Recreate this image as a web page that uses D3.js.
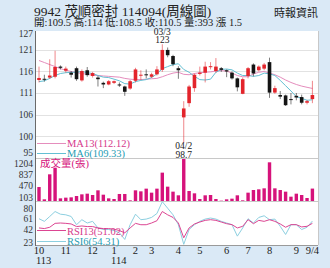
<!DOCTYPE html>
<html><head><meta charset="utf-8">
<script src="https://cdn.jsdelivr.net/npm/d3@7"></script>
<style>
body{margin:0;background:#dae9f6;}
svg{display:block}
text{font-family:"Liberation Serif","Noto Sans CJK TC",serif;}
</style>
</head><body>
<svg id="c" width="330" height="268"></svg>
<script>
// ---------- data (weekly, 52 candles) ----------
const opens  = [114.2,114.5,114.8,115.0,117.5,116.5,116.0,117.1,114.1,116.6,115.2,114.8,113.5,113.1,113.5,113.1,112.6,112.1,114.0,115.3,115.6,115.0,115.6,116.7,121.6,120.1,117.1,105.0,108.5,112.2,115.7,116.0,117.4,116.4,117.1,116.6,116.0,114.6,110.8,115.2,118.0,116.6,117.0,118.6,111.1,110.5,110.4,109.5,110.3,110.0,108.6,109.5];
const highs  = [117.5,115.5,119.3,121.4,117.8,117.5,116.4,117.5,116.8,117.4,116.2,115.2,113.8,114.2,114.1,113.6,112.8,114.2,117.2,116.6,116.8,116.0,117.6,123.0,122.2,120.4,117.6,109.0,113.0,115.8,117.5,118.7,118.6,119.6,117.4,116.8,116.3,114.8,114.8,117.4,118.3,117.8,118.4,119.7,112.8,111.5,110.6,111.0,111.0,110.6,109.3,114.0];
const lows   = [113.6,113.8,114.5,114.6,116.8,116.0,114.8,114.0,113.8,115.0,114.8,112.6,112.2,112.9,113.2,112.5,110.3,111.8,113.6,114.2,114.6,114.7,115.3,116.2,119.8,117.6,114.5,98.7,107.6,111.3,115.3,113.6,116.8,116.0,116.2,114.9,114.3,111.4,110.7,114.6,115.1,116.3,116.6,109.8,110.8,109.5,107.8,108.2,109.2,108.2,108.2,108.5];
const closes = [114.7,114.3,115.3,117.4,117.2,117.0,115.5,114.4,116.4,115.4,115.9,114.4,113.1,113.9,113.9,113.0,111.3,113.9,116.8,115.5,115.4,115.6,116.8,121.6,120.3,118.1,116.6,107.2,112.6,115.5,116.0,117.5,117.6,117.5,116.7,116.3,114.6,112.4,114.4,117.1,115.8,117.5,118.0,111.1,112.2,110.1,108.0,109.4,109.9,108.6,109.0,110.5];
const volumes = [443,53,845,1056,84,106,116,158,211,232,190,338,200,84,63,222,222,21,338,306,391,264,391,898,454,296,180,1330,317,243,63,180,190,63,11,53,74,180,21,264,348,370,401,1225,401,348,296,137,232,190,95,393];
const ma6  = [113.8,114.0,114.6,115.3,115.8,116.0,116.1,116.1,116.3,116.0,115.8,115.3,114.9,114.8,114.4,114.0,113.3,113.2,113.8,114.1,114.3,114.8,115.7,117.0,117.5,118.0,118.2,116.8,116.1,115.1,114.3,114.2,114.4,116.1,116.8,116.9,116.7,115.9,115.3,115.3,115.1,115.3,115.9,115.7,115.3,114.1,112.8,111.5,110.1,109.7,109.2,109.33];
const ma13 = [119.0,118.5,118.0,117.5,117.0,116.6,116.3,116.0,115.8,115.6,115.4,115.3,115.2,115.1,115.0,114.9,114.6,114.4,114.3,114.3,114.4,114.5,114.6,115.0,115.5,115.9,116.1,115.6,115.5,115.8,116.0,116.1,116.2,116.4,116.5,116.4,115.9,115.3,115.0,115.0,115.7,116.1,116.3,115.9,115.5,114.9,114.2,113.6,113.1,112.7,112.4,112.12];
const rsi6  = [57.7,53.9,61.0,68.2,64.3,63.4,61.0,49.0,56.3,51.5,53.9,44.3,42.0,42.0,40.5,37.2,27.6,49.0,64.3,56.3,57.2,59.6,65.3,82.5,73.0,63.4,49.0,20.5,42.0,49.0,53.9,57.2,58.7,57.2,53.9,51.5,49.0,32.4,44.3,57.7,51.5,59.6,62.0,56.3,57.2,46.7,34.8,49.0,49.0,42.0,45.3,54.31];
const rsi13 = [44.3,43.4,45.3,51.0,51.5,51.0,50.1,46.3,47.2,46.3,46.3,44.3,43.4,43.4,42.5,40.5,37.2,44.3,51.0,49.0,49.0,51.5,54.8,68.2,63.4,59.6,51.5,30.0,44.3,50.1,52.9,55.3,56.3,55.3,52.9,50.5,49.1,44.3,46.7,56.3,50.5,55.3,53.9,56.3,53.9,50.1,45.3,49.1,49.1,45.8,46.7,51.02];

const priceTicks = [95,100.3,105.7,111,116.3,121.7,127];
const priceTickLabels = ["95","100","106","111","116","121","127"];
const volTicks = [103,470,837,1204];
const rsiTicks = [23,42,61,80];
const monthIdx  = [0,5,10,14,18,21,26,30,35,39,43,48,51];
const monthText = ["10","11","12","1","2","3","4","5","6","7","8","9","9/4"];
const yearIdx  = [0,14];
const yearText = ["113","114"];
const highIdx = 23, highDate = "03/3";
const lowIdx = 27, lowDate = "04/2";

// ---------- layout ----------
const L = 35, R = 318;
const svg = d3.select("#c");
const x = d3.scaleLinear().domain([0, closes.length - 1]).range([39, 312.4]);
const yP = d3.scaleLinear().domain([95, 127]).range([158, 28]);
const yV = d3.scaleLinear().domain([0, 1330]).range([201, 159]);
const yR = d3.scaleLinear().domain([19.5, 83.5]).range([245, 201]);

const RED = "#e3242b", BLK = "#141414", MAG = "#d6137b";

// title
svg.append("text").attr("x", 34).attr("y", 15.5).attr("font-size", 13.5).attr("fill", "#222")
  .text("9942  茂順密封 114094(周線圖)");
svg.append("text").attr("x", 318).attr("y", 16.5).attr("font-size", 11).attr("fill", "#222")
  .attr("text-anchor", "end").text("時報資訊");
svg.append("text").attr("x", 34).attr("y", 26).attr("font-size", 10.5).attr("fill", "#222")
  .text("開:109.5 高:114 低:108.5 收:110.5 量:393 漲 1.5");

// plot background
svg.append("rect").attr("x", L).attr("y", 31).attr("width", R - L).attr("height", 214).attr("fill", "#fff");

// price grid
svg.append("g").selectAll("line").data(priceTicks.slice(1, -1)).join("line")
  .attr("x1", L).attr("x2", R).attr("y1", d => Math.round(yP(d)) + 0.5).attr("y2", d => Math.round(yP(d)) + 0.5)
  .attr("stroke", "#e2e2e2").attr("stroke-width", 1);

// separators / borders
const sep = [158.5, 201.5];
svg.append("g").selectAll("line").data(sep).join("line")
  .attr("x1", L).attr("x2", R).attr("y1", d => d).attr("y2", d => d).attr("stroke", "#c8c8c8");
svg.append("line").attr("x1", R + 0.5).attr("x2", R + 0.5).attr("y1", 31).attr("y2", 245).attr("stroke", "#c8c8c8");
svg.append("line").attr("x1", L).attr("x2", R).attr("y1", 245.5).attr("y2", 245.5).attr("stroke", "#9a9a9a");
svg.append("line").attr("x1", L + 0.5).attr("x2", L + 0.5).attr("y1", 31).attr("y2", 246).attr("stroke", "#6a6a6a");

// y tick labels (stacked top-to-bottom with a minimum gap so they never collide)
const tickLabels = [];
priceTicks.forEach((v, i) => tickLabels.push({t: priceTickLabels[i], y: Math.min(Math.max(yP(v), 34), 153)}));
volTicks.forEach(v => tickLabels.push({t: String(v), y: yV(v)}));
rsiTicks.forEach(v => tickLabels.push({t: String(v), y: yR(v)}));
tickLabels.sort((a, b) => a.y - b.y);
const GAP = 10.7;
for (let k = 1; k < tickLabels.length; k++) tickLabels[k].y = Math.max(tickLabels[k].y, tickLabels[k - 1].y + GAP);
svg.append("g").selectAll("text").data(tickLabels).join("text")
  .attr("x", 33).attr("text-anchor", "end").attr("font-size", 9.5).attr("fill", "#333")
  .attr("y", d => d.y + 3.3).text(d => d.t);

// MA lines
const idx = d3.range(closes.length);
const lineP = arr => d3.line().x(i => x(i)).y(i => yP(arr[i]))(idx);
svg.append("path").attr("d", lineP(ma13)).attr("fill", "none").attr("stroke", "#e58dbd").attr("stroke-width", 1);
svg.append("path").attr("d", lineP(ma6)).attr("fill", "none").attr("stroke", "#63bfd3").attr("stroke-width", 1);

// candles
const bw = 3.6;
const cg = svg.append("g");
cg.selectAll("line").data(idx).join("line")
  .attr("x1", i => x(i)).attr("x2", i => x(i))
  .attr("y1", i => yP(highs[i])).attr("y2", i => yP(lows[i]))
  .attr("stroke", i => closes[i] >= opens[i] ? RED : BLK).attr("stroke-width", 1).attr("stroke-opacity", 0.55);
cg.selectAll("rect").data(idx).join("rect")
  .attr("x", i => x(i) - bw / 2).attr("width", bw)
  .attr("y", i => yP(Math.max(opens[i], closes[i])))
  .attr("height", i => Math.max(1, Math.abs(yP(opens[i]) - yP(closes[i]))))
  .attr("fill", i => closes[i] >= opens[i] ? RED : BLK);

// high / low annotations
const ann = svg.append("g").attr("font-size", 9.5).attr("fill", "#222").attr("text-anchor", "middle");
ann.append("text").attr("x", x(highIdx)).attr("y", 34.5).text(highDate);
ann.append("text").attr("x", x(highIdx)).attr("y", yP(highs[highIdx]) - 1).text(highs[highIdx]);
ann.append("text").attr("x", x(lowIdx)).attr("y", yP(lows[lowIdx]) + 6.5).text(lowDate);
ann.append("text").attr("x", x(lowIdx)).attr("y", yP(lows[lowIdx]) + 15.5).text(lows[lowIdx]);

// MA legend
const lg = svg.append("g").attr("font-size", 10.5);
lg.append("line").attr("x1", 37).attr("x2", 66).attr("y1", 143.5).attr("y2", 143.5).attr("stroke", "#e58dbd");
lg.append("text").attr("x", 67).attr("y", 147).attr("fill", "#d63a8c").text("MA13(" + ma13[ma13.length - 1].toFixed(2) + ")");
lg.append("line").attr("x1", 37).attr("x2", 66).attr("y1", 153.5).attr("y2", 153.5).attr("stroke", "#63bfd3");
lg.append("text").attr("x", 67).attr("y", 157).attr("fill", "#1f9db3").text("MA6(" + ma6[ma6.length - 1].toFixed(2) + ")");

// volume bars
const vbw = 3.4;
svg.append("g").selectAll("rect").data(idx).join("rect")
  .attr("x", i => x(i) - vbw / 2).attr("width", vbw)
  .attr("y", i => yV(volumes[i])).attr("height", i => yV(0) - yV(volumes[i]))
  .attr("fill", MAG);
svg.append("text").attr("x", 40).attr("y", 167).attr("font-size", 10.5).attr("fill", MAG).text("成交量(張)");

// RSI lines
const lineR = arr => d3.line().x(i => x(i)).y(i => yR(arr[i]))(idx);
svg.append("path").attr("d", lineR(rsi6)).attr("fill", "none").attr("stroke", "#8ccfe0").attr("stroke-width", 1);
svg.append("path").attr("d", lineR(rsi13)).attr("fill", "none").attr("stroke", "#dc4592").attr("stroke-width", 1);
const rl = svg.append("g").attr("font-size", 10.5);
rl.append("line").attr("x1", 37).attr("x2", 66).attr("y1", 230.5).attr("y2", 230.5).attr("stroke", "#dc4592");
rl.append("text").attr("x", 67).attr("y", 234.5).attr("fill", "#d63a8c").text("RSI13(" + rsi13[rsi13.length - 1].toFixed(2) + ")");
rl.append("line").attr("x1", 37).attr("x2", 66).attr("y1", 241.5).attr("y2", 241.5).attr("stroke", "#8ccfe0");
rl.append("text").attr("x", 67).attr("y", 244.5).attr("fill", "#1f9db3").text("RSI6(" + rsi6[rsi6.length - 1].toFixed(2) + ")");

// x labels
const xl = svg.append("g").attr("font-size", 10.5).attr("fill", "#222");
xl.selectAll("text.m").data(monthIdx).join("text").attr("class", "m")
  .attr("x", i => x(i)).attr("y", 254).attr("text-anchor", "middle")
  .text((d, k) => monthText[k]);
xl.selectAll("text.yr").data(yearIdx).join("text").attr("class", "yr")
  .attr("x", i => x(i) - 3).attr("y", 264)
  .text((d, k) => yearText[k]);
</script>
</body></html>
